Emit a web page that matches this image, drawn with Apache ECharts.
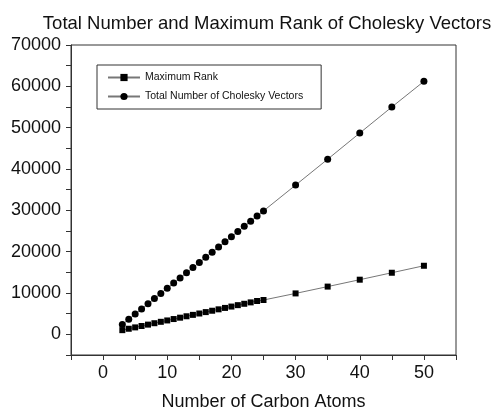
<!DOCTYPE html>
<html>
<head>
<meta charset="utf-8">
<script src="https://cdn.jsdelivr.net/npm/echarts@6/dist/echarts.min.js"></script>
<style>html,body{margin:0;padding:0;background:#fff}#c{width:493px;height:416px}</style>
</head>
<body>
<div id="c"></div>
<script>
var titleText = 'Total Number and Maximum Rank of Cholesky Vectors';
var xName = 'Number of Carbon Atoms';
var carbons = [3,4,5,6,7,8,9,10,11,12,13,14,15,16,17,18,19,20,21,22,23,24,25,30,35,40,45,50];
var maxRank = [1010,1350,1680,2020,2350,2690,3030,3360,3700,4030,4370,4710,5040,5380,5710,6050,6390,6720,7060,7390,7730,8070,8300,9900,11550,13220,14900,16590];
var totalVectors = [2400,3640,4900,6150,7400,8640,9900,11150,12390,13640,14900,16140,17390,18640,19880,21130,22380,23620,24870,26120,27370,28610,29860,36100,42370,48700,55000,61200];
var seriesNames = ['Maximum Rank', 'Total Number of Cholesky Vectors'];

function pairs(xs, ys){ return xs.map(function(x,i){ return [x, ys[i]]; }); }

var font = 'Liberation Sans, Arial, sans-serif';
var chart = echarts.init(document.getElementById('c'));
chart.setOption({
  animation: false,
  backgroundColor: '#fff',
  title: {
    text: titleText, left: 262, top: 9, textAlign: 'center',
    textStyle: { fontFamily: font, fontSize: 18.5, fontWeight: 'normal', color: '#111' }
  },
  legend: {
    orient: 'vertical', left: 97, top: 65,
    padding: [7, 18, 7, 10],
    borderColor: '#333', borderWidth: 1,
    itemWidth: 32, itemHeight: 9, itemGap: 8,
    textStyle: { fontFamily: font, fontSize: 10.5, color: '#111' },
    data: seriesNames
  },
  grid: { left: 71, right: 37, top: 45, bottom: 59, show: true, borderColor: '#333', borderWidth: 1 },
  xAxis: {
    type: 'value', min: -5, max: 55, interval: 5,
    name: xName, nameLocation: 'middle', nameGap: 38,
    nameTextStyle: { fontFamily: font, fontSize: 18, color: '#111' },
    axisLine: { onZero: false, lineStyle: { color: '#333', width: 1 } },
    axisTick: { length: 5, lineStyle: { color: '#333' } },
    axisLabel: { fontFamily: font, fontSize: 18, color: '#111', margin: 9,
      formatter: function(v){ return v % 10 === 0 ? String(v) : ''; } },
    splitLine: { show: false }
  },
  yAxis: {
    type: 'value', min: -5000, max: 70000, interval: 5000,
    axisLine: { show: true, onZero: false, lineStyle: { color: '#333', width: 1 } },
    axisTick: { show: true, length: 5, lineStyle: { color: '#333' } },
    axisLabel: { fontFamily: font, fontSize: 18, color: '#111', margin: 10,
      formatter: function(v){ return v % 10000 === 0 ? String(v) : ''; } },
    splitLine: { show: false }
  },
  series: [
    {
      name: seriesNames[0], type: 'line', data: pairs(carbons, maxRank),
      symbol: 'rect', symbolSize: 6, showAllSymbol: true,
      lineStyle: { color: '#777', width: 1 }, itemStyle: { color: '#000' }
    },
    {
      name: seriesNames[1], type: 'line', data: pairs(carbons, totalVectors),
      symbol: 'circle', symbolSize: 7, showAllSymbol: true,
      lineStyle: { color: '#777', width: 1 }, itemStyle: { color: '#000' }
    }
  ]
});
</script>
</body>
</html>
